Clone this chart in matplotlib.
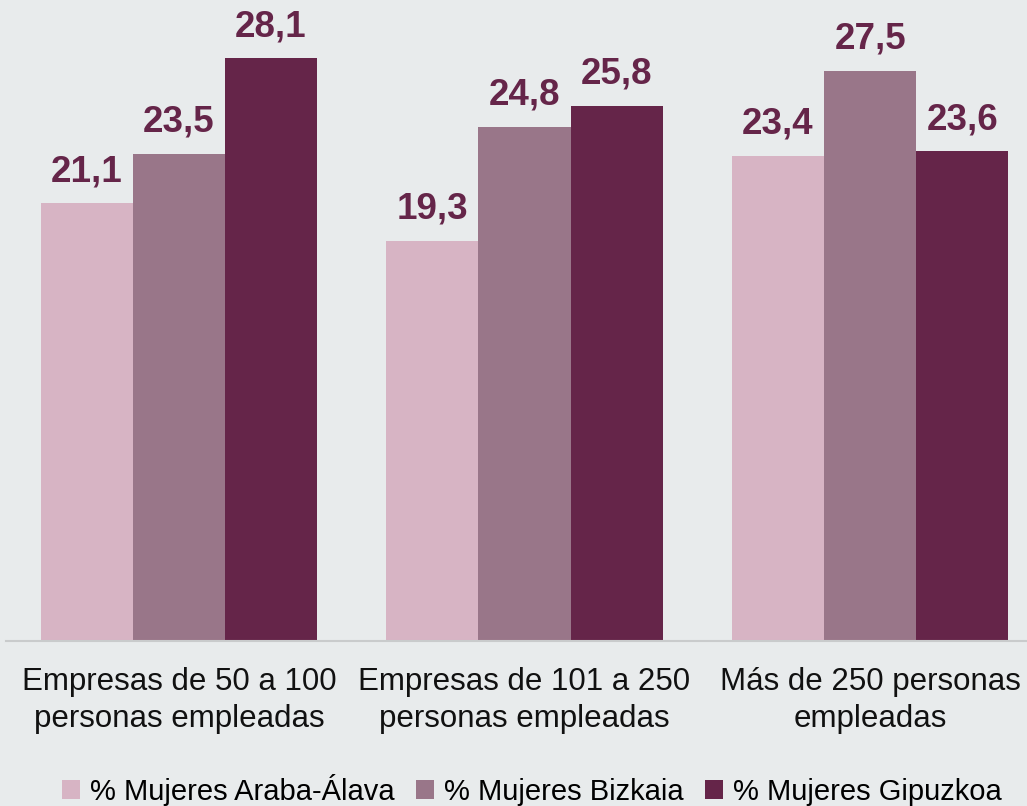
import matplotlib
matplotlib.use('Agg')
import matplotlib.pyplot as plt
import numpy as np

categories = ['Empresas de 50 a 100\npersonas empleadas',
              'Empresas de 101 a 250\npersonas empleadas',
              'Más de 250 personas\nempleadas']
series_names = ['% Mujeres Araba-Álava', '% Mujeres Bizkaia', '% Mujeres Gipuzkoa']
araba = [21.1, 19.3, 23.4]
bizkaia = [23.5, 24.8, 27.5]
gipuzkoa = [28.1, 25.8, 23.6]
colors = ['#D7B4C4', '#997689', '#652549']

bg = '#E8EBEC'
plt.rcParams['font.family'] = ['Liberation Sans', 'DejaVu Sans']

fig = plt.figure(figsize=(10.27, 8.06), dpi=100, facecolor=bg)
ax = fig.add_axes([6 / 1027, 165 / 806, 1 - 6 / 1027, 641 / 806], facecolor=bg)

x = np.arange(len(categories))
w = 0.8 / 3
for i, (vals, name, c) in enumerate(zip([araba, bizkaia, gipuzkoa], series_names, colors)):
    bars = ax.bar(x + (i - 1) * w, vals, w, color=c, label=name)
    for b, v in zip(bars, vals):
        ax.annotate(f'{v:.1f}'.replace('.', ','), (b.get_x() + b.get_width() / 2, v),
                    xytext=(0, 10), textcoords='offset points', ha='center', va='bottom',
                    fontsize=26.5, fontweight='bold', color='#652549')

ax.set_xlim(-0.5, 2.454)
ax.set_ylim(0, 30.9)
ax.set_yticks([])
for s in ['top', 'right', 'left']:
    ax.spines[s].set_visible(False)
ax.spines['bottom'].set_color('#C9CBCC')
ax.spines['bottom'].set_linewidth(1.5)
ax.set_xticks(x)
ax.set_xticklabels(categories, fontsize=22.5, color='#111111', linespacing=1.28)
ax.tick_params(axis='x', length=0, pad=19)

fig.legend(loc='lower center', bbox_to_anchor=(0.518, -0.032), ncol=3, frameon=False,
           fontsize=21, handlelength=0.6, handleheight=0.6, handletextpad=0.35,
           columnspacing=0.75)

fig.savefig('out.png', dpi=100, facecolor=bg)
